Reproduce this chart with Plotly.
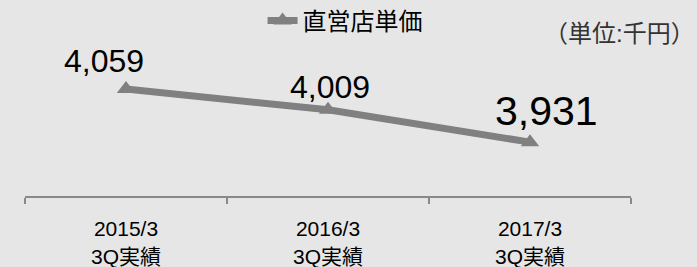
import plotly.graph_objects as go

categories = ["2015/3<br>3Q実績", "2016/3<br>3Q実績", "2017/3<br>3Q実績"]
values = [4059, 4009, 3931]
labels = ["4,059", "4,009", "3,931"]
series_name = "直営店単価"
unit_text = "（単位:千円）"

FONT = "Liberation Sans, Arial, Noto Sans CJK JP, sans-serif"
GRAY = "#808080"
AXIS_GRAY = "#898989"
BG = "#e6e6e6"

fig = go.Figure()
fig.add_trace(go.Scatter(
    x=categories, y=values, mode="lines+markers", name=series_name,
    line=dict(color=GRAY, width=7),
    marker=dict(symbol="triangle-up", size=16, color=GRAY),
))

label_sizes = [32, 32, 41]
label_xshift = [-22, 2, 16]
label_yshift = [28, 23, 31]
for c, v, t, s, xs, ys in zip(categories, values, labels, label_sizes, label_xshift, label_yshift):
    fig.add_annotation(x=c, y=v, text=t, showarrow=False, xshift=xs, yshift=ys,
                       font=dict(size=s, color="#000000", family=FONT))

fig.add_annotation(xref="paper", yref="paper", x=1.109, y=0.83, xanchor="right", yanchor="middle",
                   text=unit_text, showarrow=False,
                   font=dict(size=24, color="#333333", family=FONT))

fig.update_layout(
    width=697, height=267,
    margin=dict(l=25, r=66, t=0, b=71, autoexpand=False),
    paper_bgcolor=BG, plot_bgcolor=BG,
    font=dict(family=FONT, color="#000000"),
    showlegend=True,
    legend=dict(orientation="h", x=0.392, y=0.893, xanchor="left", yanchor="middle",
                font=dict(size=24, family=FONT, color="#000000"), bgcolor="rgba(0,0,0,0)"),
    xaxis=dict(range=[-0.5, 2.5], showline=True, linecolor=AXIS_GRAY, linewidth=2, ticks="outside",
               tickson="boundaries", ticklen=6, tickcolor=AXIS_GRAY, tickwidth=2,
               ticklabelstandoff=13, automargin=False,
               showgrid=False, zeroline=False, tickfont=dict(size=21, family=FONT, color="#000000")),
    yaxis=dict(range=[3801, 4274], visible=False, showgrid=False, zeroline=False),
)

fig.write_html(
    "out.html",
    config={"displayModeBar": False},
    post_script="document.body.style.margin='0';document.body.style.background='" + BG + "';",
)
